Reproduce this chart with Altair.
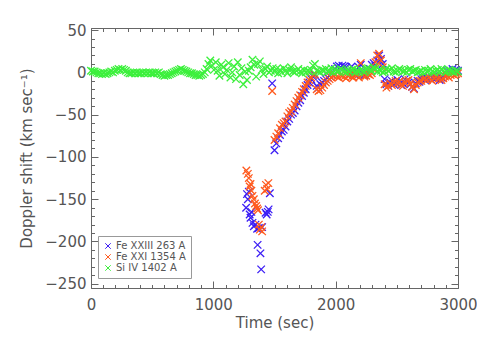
import altair as alt
import pandas as pd

# ---------------- data ----------------
series_names = ["Fe XXIII 263 A", "Fe XXI 1354 A", "Si IV 1402 A"]
series_colors = ["#3c1ef5", "#ff5a1e", "#3cf03c"]

# Fe XXIII (blue): flare phase then regular cadence
fe23_flare_t = [1268, 1275, 1282, 1290, 1297, 1304, 1311, 1320, 1331, 1345, 1358,
                1362, 1372, 1385, 1391, 1399, 1427, 1436, 1445, 1452, 1462, 1481]
fe23_flare_v = [-160, -144, -150, -141, -168, -172, -165, -178, -182, -180, -185,
                -204, -184, -214, -233, -183, -166, -168, -165, -162, -143, -13]
fe23_t = list(range(1500, 3001, 15))
fe23_v = [
    -92, -84, -78, -74, -70, -68, -64, -58, -55, -50, -48, -45, -40, -36, -33, -28, -24, -20, -15, -12,
    -8, -5, -3, -16, -18, -14, -12, -10, -8, -6, -4, -2, 0, 4, 7, 8, 6, 8, 7, 6,
    2, -2, 7, -1, -3, 0, 6, 9, -2, -3, 0, -1, 4, 9, 11, 8, 14, 20, 16, 10,
    -8, -14, -16, -12, -10, -14, -12, -9, -11, -15, -13, -8, -10, -12, -14, -17, -19, -13, -10, -11,
    -8, -6, -9, -7, -5, -8, -6, -4, -7, -5, -9, -6, -3, -1, 2, 3, 1, 4, 2, 3,
    2,
]

# Fe XXI (orange)
fe21_flare_t = [1270, 1282, 1290, 1297, 1304, 1311, 1320, 1331, 1340, 1350, 1358,
                1365, 1372, 1380, 1392, 1399, 1420, 1430, 1440, 1450, 1481]
fe21_flare_v = [-116, -120, -125, -135, -132, -140, -146, -150, -155, -158, -161,
                -163, -180, -186, -183, -188, -140, -133, -138, -131, -22]
fe21_t = list(range(1500, 3001, 15))
fe21_v = [
    -80, -76, -72, -66, -62, -60, -58, -52, -48, -46, -42, -38, -34, -30, -27, -23, -20, -16, -12, -9,
    -6, -3, -2, -20, -22, -21, -18, -15, -12, -10, -8, -6, -4, -3, -5, -6, -3, -4, -5, -7,
    -4, -3, -5, -6, -2, -4, -6, 11, -3, -5, -4, -2, -3, -1, 4, 12, 20, 22, 14, 6,
    -14, -18, -16, -13, -15, -12, -10, -13, -11, -14, -16, -12, -10, -9, -13, -17, -20, -15, -12, -10,
    -10, -8, -7, -9, -6, -8, -10, -7, -5, -8, -6, -9, -7, -5, -4, -6, -3, -2, -3, -2,
    -1,
]

# Si IV (green)
si4_t = list(range(0, 3001, 15))
si4_v = [
    2, 1, 1, 0, -1, -1, -2, -1, -2, -1, 0, 1, 0, 2, 3, 4, 3, 4, 3, 2,
    0, -1, -1, 0, -1, 0, -1, -1, 0, -1, 0, -1, 0, -1, -1, 0, -1, 0, -2, -3,
    -4, -3, -3, -2, -1, 0, 1, 2, 3, 4, 3, 2, 1, 0, -1, -1, -2, -3, -3, -4,
    -3, -2, 0, 4, 10, 14, 8, 3, 12, 2, -4, 9, 6, -2, 3, 11, -6, 0, 7, -8,
    12, -3, 5, -14, 1, -9, 2, 6, 15, 9, -5, 10, 13, 3, -2, 4, 7, 0, 2, 5,
    1, 4, -1, 3, 0, 5, 2, -1, 3, 6, 1, 0, 2, 4, 1, -1, 3, 0, 2, 1,
    3, 8, 10, 2, 1, 0, 3, 2, 4, 1, 2, 5, 0, 3, 1, 2, 4, 3, 1, 0,
    2, 1, 3, 4, 0, 2, 1, 3, 2, 0, 4, 5, 3, 2, 6, 4, 1, 3, 2, 0,
    1, 4, 2, 3, 5, 1, 0, 2, 4, 3, 1, 2, 0, 3, 4, 1, 2, 3, 0, 1,
    2, 0, 3, 1, 2, 4, 1, 0, 2, 3, 1, 4, 2, 0, 1, 3, 2, 1, 0, 2,
    1,
]

x_major = [0, 1000, 2000, 3000]
x_minor = list(range(0, 3001, 100))
y_major = [-250, -200, -150, -100, -50, 0, 50]
y_minor = list(range(-250, 51, 10))

# ---------------- frame ----------------
rows = []
for t, v in zip(fe23_flare_t + fe23_t, fe23_flare_v + fe23_v):
    rows.append({"t": t, "v": v, "series": series_names[0]})
for t, v in zip(fe21_flare_t + fe21_t, fe21_flare_v + fe21_v):
    rows.append({"t": t, "v": v, "series": series_names[1]})
for t, v in zip(si4_t, si4_v):
    rows.append({"t": t, "v": v, "series": series_names[2]})
df = pd.DataFrame(rows)

W, H = 367, 260
XPATH = "M-1,-1L1,1M1,-1L-1,1"
FONT = "DejaVu Sans"
TXT = "#555555"
FRAME = "#666666"

xs = alt.Scale(domain=[0, 3000], nice=False, zero=False)
ys = alt.Scale(domain=[-255, 52.5], nice=False, zero=False)

pts = alt.Chart(df).mark_point(
    shape=XPATH, filled=False, size=56, strokeWidth=1.3, opacity=1
).encode(
    x=alt.X("t:Q", scale=xs, axis=alt.Axis(
        orient="bottom", values=x_major, format="d", tickSize=0, domain=False, grid=False,
        labelFont=FONT, labelFontSize=15, labelColor=TXT, labelPadding=9,
        labelFlush=False, title="Time (sec)", titleFont=FONT, titleFontSize=15,
        titleFontWeight="normal", titleColor=TXT, titlePadding=3)),
    y=alt.Y("v:Q", scale=ys, axis=alt.Axis(
        orient="left", values=y_major, format="d", tickSize=0, domain=False, grid=False,
        labelFont=FONT, labelFontSize=15, labelColor=TXT, labelPadding=5,
        labelFlush=False, title="Doppler shift (km sec⁻¹)", titleFont=FONT,
        titleFontSize=15, titleFontWeight="normal", titleColor=TXT, titlePadding=10)),
    color=alt.Color("series:N", sort=series_names,
                    scale=alt.Scale(domain=series_names, range=series_colors),
                    legend=alt.Legend(
                        orient="none", legendX=7, legendY=208, title=None,
                        strokeColor="#999999", fillColor="white", padding=5,
                        labelFont=FONT, labelFontSize=10, labelColor=TXT,
                        symbolType=XPATH, symbolSize=30, symbolStrokeWidth=1,
                        rowPadding=1, labelOffset=3)),
)


def tick_layer(xorient, yorient, xvals, yvals, size):
    return alt.Chart(df).mark_point(opacity=0).encode(
        x=alt.X("t:Q", scale=xs, axis=alt.Axis(
            orient=xorient, offset=-H, values=xvals, labels=False, domain=False,
            grid=False, title=None, tickSize=size, tickColor=FRAME, tickWidth=1)),
        y=alt.Y("v:Q", scale=ys, axis=alt.Axis(
            orient=yorient, offset=-W, values=yvals, labels=False, domain=False,
            grid=False, title=None, tickSize=size, tickColor=FRAME, tickWidth=1)),
    )


chart = alt.layer(
    pts,
    tick_layer("top", "right", x_major, y_major, 7),
    tick_layer("top", "right", x_minor, y_minor, 3.5),
    tick_layer("bottom", "left", x_major, y_major, 7),
    tick_layer("bottom", "left", x_minor, y_minor, 3.5),
).resolve_axis(x="independent", y="independent").properties(
    width=W, height=H,
    autosize=alt.AutoSizeParams(type="none"),
    padding={"left": 83, "top": 20, "right": 19, "bottom": 50},
).configure_view(stroke=FRAME, strokeWidth=1)

chart.save("out.html", embed_options={"renderer": "svg", "actions": False})
